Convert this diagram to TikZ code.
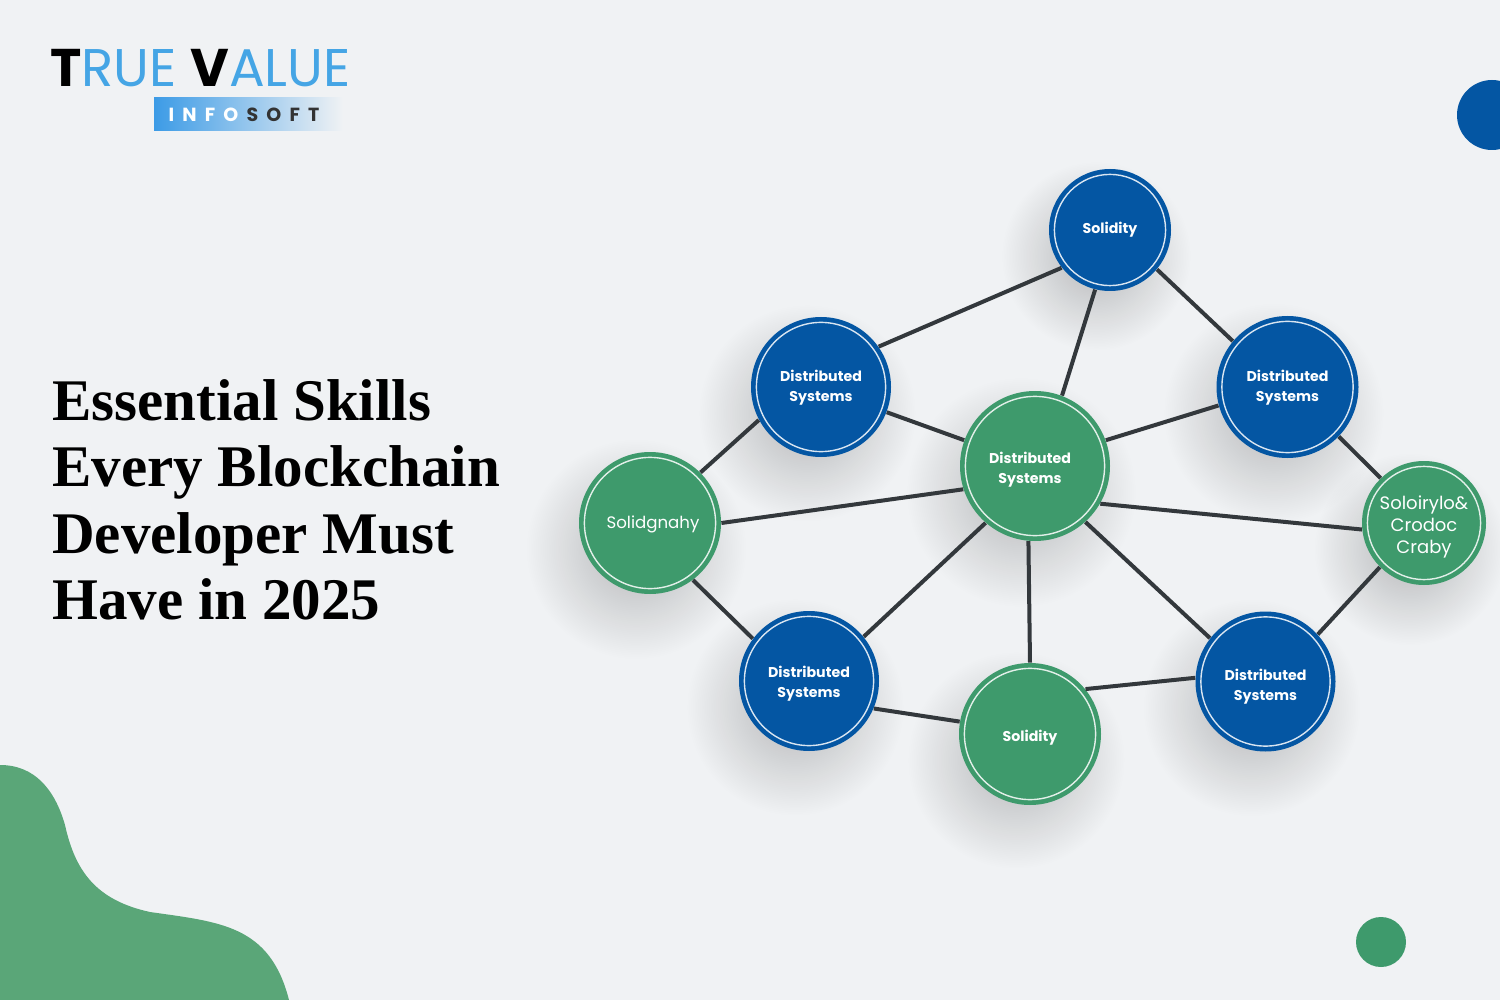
\documentclass[tikz,border=0pt]{standalone}
\usepackage{fontspec}
\setmainfont{Poppins}
\newfontfamily\titlefont{Liberation Serif}
\usetikzlibrary{calc,fadings}
\definecolor{blueskill}{HTML}{0456A3}
\definecolor{greenskill}{HTML}{3E9A6C}
\definecolor{blobgreen}{HTML}{5AA678}
\definecolor{pagebg}{HTML}{F0F2F4}
\definecolor{edgegray}{HTML}{33383C}
\definecolor{logoblue}{HTML}{45A5E5}
\definecolor{logobar}{HTML}{3C9BE6}
\newcommand{\topgap}[1]{\rule{0pt}{#1}}
\tikzfading[name=softspot, inner color=transparent!76, outer color=transparent!100]
\tikzset{
  skill/.style={circle, minimum size=#1, inner sep=0pt, align=center, text=white,
    font=\fontsize{7.1}{10}\selectfont\bfseries,
    path picture={\draw[white, opacity=.85, line width=.7pt] (path picture bounding box.center) circle (.5*#1-2.7pt);}},
  bluedisc/.style={skill=#1, fill=blueskill},
  greendisc/.style={skill=#1, fill=greenskill},
  link/.style={edgegray, line width=2pt}
}
\begin{document}
\begin{tikzpicture}[x=.5pt, y=-.5pt]
  \useasboundingbox (0,0) rectangle (1500,1000);
  \fill[pagebg] (0,0) rectangle (1500,1000);
  % corner shapes
  \fill[blobgreen] (0,765) .. controls (35,765) and (55,790) .. (65,825)
    .. controls (75,870) and (95,900) .. (150,912)
    .. controls (220,922) and (270,925) .. (289,1000) -- (0,1000) -- cycle;
  \fill[blueskill] (1492,115) circle (35);
  \fill[greenskill] (1381,942) circle (25);
  % logo
  \node (logotrue) at (50,68) [anchor=west, inner sep=0pt, font=\fontsize{26.5}{26}\selectfont, text=logoblue] {\textcolor{black}{\bfseries T}RUE};
  \node (logovalue) at (190,68) [anchor=west, inner sep=0pt, font=\fontsize{26.5}{26}\selectfont, text=logoblue] {\textcolor{black}{\bfseries V}ALUE};
  \node (logosub) at (248.5,114.5) [minimum width=94.5pt, minimum height=16.5pt, inner sep=0pt,
    left color=logobar, middle color=logobar!90!pagebg, right color=pagebg] {};
  \node (logotext) at (244,114.5) [inner sep=0pt, font=\fontsize{9.5}{9.5}\selectfont\bfseries, text=white]
    {I\hspace{4.1pt}N\hspace{4.1pt}F\hspace{4.1pt}O\hspace{4.1pt}\textcolor{black!80}{S\hspace{4.1pt}O\hspace{4.1pt}F\hspace{4.1pt}T}};
  % title
  \node (title) at (52,500) [anchor=west, inner sep=0pt, align=left, font=\titlefont\fontsize{29.5}{33.2}\selectfont\bfseries] {Essential Skills\\Every Blockchain\\Developer Must\\Have in 2025};
  % disc centres, shadows go under the discs
  \coordinate (top) at (1110,230);
  \coordinate (left) at (821,387);
  \coordinate (right) at (1287.5,387);
  \coordinate (mid) at (1035,466);
  \coordinate (far) at (650,523);
  \coordinate (farr) at (1424,523);
  \coordinate (lowl) at (809,681);
  \coordinate (lowm) at (1030,734);
  \coordinate (lowr) at (1265.5,681.5);
  \foreach \spot/\rad in {top/61,left/70,right/71,mid/74,far/71,farr/62,lowl/70,lowm/70,lowr/70}
    \fill[black, path fading=softspot] ($(\spot)+(-14,26)$) circle (\rad*1.55);
  \node (soltop) at (top) [bluedisc=61pt] {Solidity};
  \node (distl) at (left) [bluedisc=70pt] {\topgap{6.8pt}Distributed\\Systems};
  \node (distr) at (right) [bluedisc=71pt] {\topgap{6.8pt}Distributed\\Systems};
  \node (distm) at (mid) [greendisc=75pt, label={[font=\fontsize{7.1}{10}\selectfont\bfseries, text=white, align=center, xshift=-2.5pt, yshift=-2pt]center:Distributed\\Systems}] {};
  \node (solfar) at (far) [greendisc=71pt, font=\fontsize{8.3}{10}\selectfont] {\topgap{8.2pt}\hspace*{3pt}Solidgnahy};
  \node (solfarr) at (farr) [greendisc=62pt, font=\fontsize{9}{11}\selectfont] {\topgap{10.8pt}Soloirylo\&\\Crodoc\\Craby};
  \node (distll) at (lowl) [bluedisc=70pt] {\topgap{8.8pt}Distributed\\Systems};
  \node (sollow) at (lowm) [greendisc=71pt] {\topgap{9.4pt}Solidity};
  \node (distlr) at (lowr) [bluedisc=70pt] {\topgap{10.8pt}Distributed\\Systems};
  \draw[link]
    (distl.35) to (soltop.218)
    (soltop.256) to (distm.69)
    (soltop.320) to (distr.140)
    (distr.195) to (distm.20)
    (distl.339) to (distm.160)
    (solfar.45) to (distl.208)
    (solfar.0) to (distm.198)
    (distm.330) to (solfarr.186)
    (distr.316) to (solfarr.134)
    (solfarr.225) to (distlr.42)
    (solfar.307) to (distll.143)
    (distm.229) to (distll.39)
    (distm.265) to (sollow.90)
    (distm.312) to (distlr.142)
    (distll.337) to (sollow.170)
    (sollow.39) to (distlr.177);
\end{tikzpicture}
\end{document}
